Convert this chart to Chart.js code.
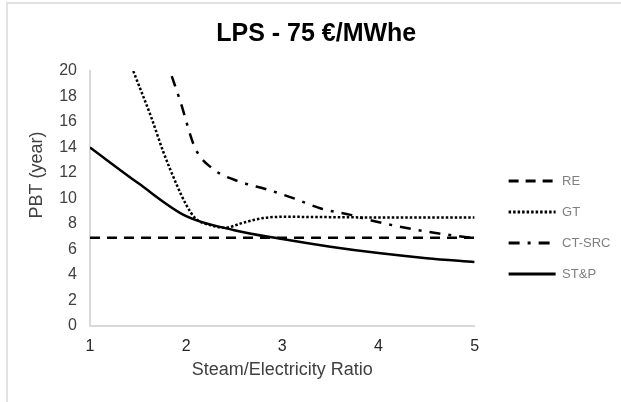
<!DOCTYPE html>
<html>
<head>
<meta charset="utf-8">
<script src="https://cdn.jsdelivr.net/npm/chart.js@4.4.1/dist/chart.umd.min.js"></script>
<style>
  html, body { margin: 0; padding: 0; background: #fff; }
  #wrap { position: relative; width: 621px; height: 402px; }
  #frame { position: absolute; left: 6px; top: 2px; right: 0; bottom: 0;
           border-left: 2px solid #e2e2e2; border-top: 2px solid #e2e2e2; pointer-events: none; }
</style>
</head>
<body>
<div id="wrap">
  <canvas id="pbtChart"></canvas>
  <div id="frame"></div>
</div>
<script>
const seriesNames = ["RE", "GT", "CT-SRC", "ST&P"];

const reX = [1, 5];
const reY = [6.9, 6.9];

const gtX = [1.45, 1.64, 1.76, 1.9, 2.0, 2.1, 2.25, 2.4, 2.6, 2.8, 3.0, 4.0, 5.0];
const gtY = [20, 16.3, 13.7, 11.1, 9.5, 8.4, 7.9, 7.7, 8.1, 8.45, 8.55, 8.5, 8.5];

const ctX = [1.85, 1.94, 2.09, 2.28, 2.56, 2.84, 3.12, 3.4, 3.71, 3.96, 4.38, 4.86, 5.0];
const ctY = [19.6, 17.6, 14.0, 12.3, 11.3, 10.7, 10.0, 9.2, 8.7, 8.2, 7.55, 7.0, 6.9];

const stpX = [1, 1.5, 2, 2.5, 3, 3.5, 4, 4.5, 5];
const stpY = [14, 11.2, 8.6, 7.5, 6.8, 6.2, 5.7, 5.3, 5.0];

const xTicks = [1, 2, 3, 4, 5];
const yTicks = [0, 2, 4, 6, 8, 10, 12, 14, 16, 18, 20];

const pts = (xs, ys) => xs.map((x, i) => ({ x: x, y: ys[i] }));

// gap between plot and legend, and the y title sitting a bit above the middle (as in the original)
const extras = {
  id: "extras",
  afterLayout(chart) {
    chart.legend.left += 16;
    chart.legend.right += 16;
  },
  afterDraw(chart) {
    const c = chart.ctx;
    c.save();
    c.translate(37.5, 175);
    c.rotate(-Math.PI / 2);
    c.font = "18px 'Liberation Sans'";
    c.fillStyle = "#404040";
    c.textAlign = "center";
    c.textBaseline = "middle";
    c.fillText("PBT (year)", 0, 0);
    c.restore();
  }
};

document.addEventListener("DOMContentLoaded", () => {
  const ctx = document.getElementById("pbtChart").getContext("2d");

  new Chart(ctx, {
    type: "line",
    data: {
      datasets: [
        { label: seriesNames[0], data: pts(reX, reY), borderDash: [10, 7], borderWidth: 2.5 },
        { label: seriesNames[1], data: pts(gtX, gtY), borderDash: [2.5, 2], borderWidth: 2.5 },
        { label: seriesNames[2], data: pts(ctX, ctY), borderDash: [11, 8, 3, 8], borderWidth: 2.5 },
        { label: seriesNames[3], data: pts(stpX, stpY), borderWidth: 2.5 }
      ].map(d => Object.assign({
        borderColor: "#000",
        backgroundColor: "#000",
        pointRadius: 0,
        fill: false,
        cubicInterpolationMode: "monotone"
      }, d))
    },
    options: {
      responsive: true,
      maintainAspectRatio: false,
      animation: false,
      layout: { padding: { left: 28, right: 16.5, top: 6, bottom: 21 } },
      scales: {
        x: {
          type: "linear",
          min: 1,
          max: 5,
          afterBuildTicks: s => { s.ticks = xTicks.map(v => ({ value: v })); },
          grid: { display: false, tickLength: 4 },
          border: { color: "#d9d9d9", width: 2 },
          ticks: { color: "#262626", font: { family: "Liberation Sans", size: 16 }, padding: 7 },
          title: {
            display: true,
            text: "Steam/Electricity Ratio",
            color: "#404040",
            font: { family: "Liberation Sans", size: 18 },
            padding: { top: -3.5, bottom: 0 }
          }
        },
        y: {
          min: 0,
          max: 20,
          afterBuildTicks: s => { s.ticks = yTicks.map(v => ({ value: v })); },
          afterFit: s => { s.width = 62; },
          grid: { display: false, tickLength: 4 },
          border: { color: "#d9d9d9", width: 2 },
          ticks: { color: "#404040", font: { family: "Liberation Sans", size: 16 }, padding: 9 },
          title: { display: false }
        }
      },
      plugins: {
        title: {
          display: true,
          text: "LPS - 75 €/MWhe",
          color: "#000",
          font: { family: "Liberation Sans", size: 25, weight: "bold" },
          padding: { top: 13.5, bottom: 21.5 }
        },
        legend: {
          position: "right",
          title: { display: true, text: " ", font: { size: 12 }, padding: { top: 0, bottom: 53.6 } },
          labels: {
            usePointStyle: true,
            pointStyle: "line",
            pointStyleWidth: 47,
            color: "#808080",
            font: { family: "Liberation Sans", size: 13 },
            padding: 18,
            generateLabels: chart => Chart.defaults.plugins.legend.labels.generateLabels(chart).map(item => {
              const ds = chart.data.datasets[item.datasetIndex];
              item.lineDash = ds.borderDash || [];
              item.lineWidth = 3;
              item.strokeStyle = "#000";
              return item;
            })
          }
        },
        tooltip: { enabled: false }
      }
    },
    plugins: [extras]
  });
});
</script>
</body>
</html>
